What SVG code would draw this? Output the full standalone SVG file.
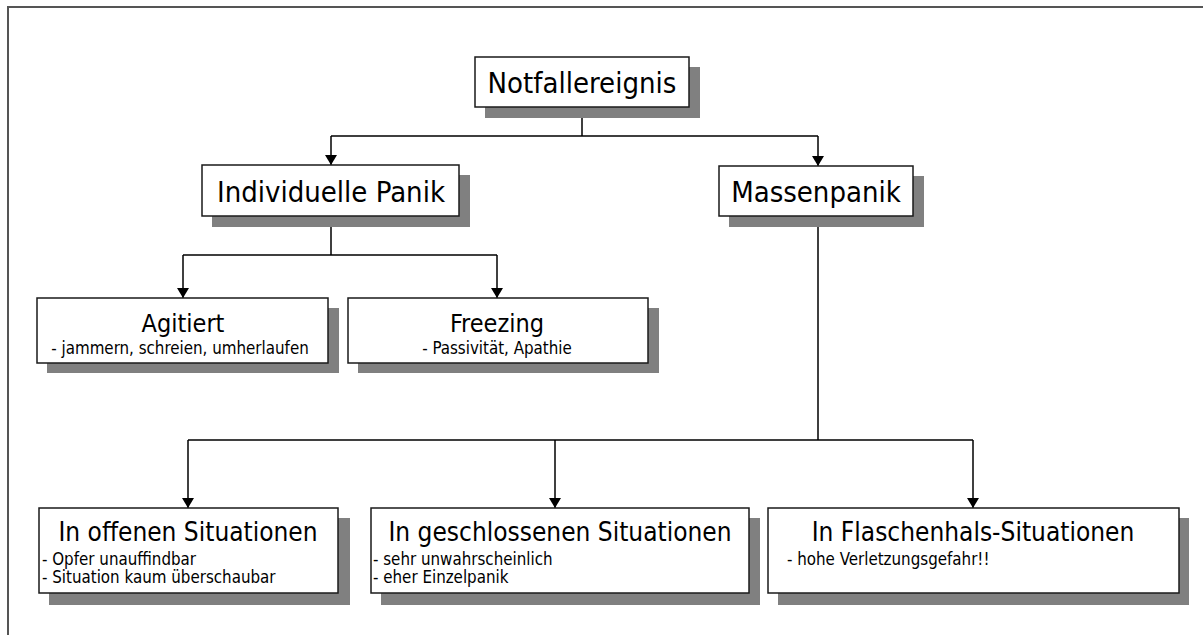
<svg xmlns="http://www.w3.org/2000/svg" width="1203" height="635" viewBox="0 0 1203 635">
  <defs>
    <style>
      .frame { fill: none; stroke: #555555; stroke-width: 2; }
      .shadow { fill: #808080; stroke: none; }
      .box { fill: #ffffff; stroke: #1a1a1a; stroke-width: 1.5; }
      .link { fill: none; stroke: #000000; stroke-width: 1.5; }
      .arrow { fill: none; stroke: #000000; stroke-width: 1.5; marker-end: url(#head); }
      text { font-family: "DejaVu Sans Condensed", "DejaVu Sans", sans-serif; font-stretch: condensed; fill: #000000; }
      .head { font-size: 29px; text-anchor: middle; }
      .title { font-size: 26px; text-anchor: middle; }
      .mid { font-size: 25px; text-anchor: middle; }
      .sub { font-size: 16.8px; }
      .subc { font-size: 16.8px; text-anchor: middle; }
    </style>
    <marker id="head" viewBox="0 0 10 12" refX="10" refY="6" markerWidth="10" markerHeight="12" markerUnits="userSpaceOnUse" orient="auto">
      <path d="M0,0 L10,6 L0,12 Z" fill="#000000"/>
    </marker>
  </defs>

  <rect width="1203" height="635" fill="#ffffff"/>
  <!-- page frame (top and left edges) -->
  <path class="frame" d="M8,635 V7 H1203"/>

  <!-- connectors -->
  <g id="connectors">
    <path class="link" d="M582,107 V136 M331,136 H818"/>
    <path class="arrow" d="M331,136 V165"/>
    <path class="arrow" d="M818,136 V166"/>
    <path class="link" d="M331,216 V255 M183,255 H497"/>
    <path class="arrow" d="M183,255 V298"/>
    <path class="arrow" d="M497,255 V298"/>
    <path class="link" d="M818,216 V440 M188,440 H973"/>
    <path class="arrow" d="M188,440 V508"/>
    <path class="arrow" d="M555,440 V508"/>
    <path class="arrow" d="M973,440 V508"/>
  </g>

  <g id="notfallereignis">
    <rect class="shadow" x="485" y="67" width="215" height="51"/>
    <rect class="box" x="475" y="57" width="214" height="50"/>
    <text class="head" x="582" y="93">Notfallereignis</text>
  </g>

  <g id="individuelle-panik">
    <rect class="shadow" x="212" y="175" width="258" height="52"/>
    <rect class="box" x="202" y="165" width="257" height="51"/>
    <text class="head" x="331" y="202">Individuelle Panik</text>
  </g>

  <g id="massenpanik">
    <rect class="shadow" x="729" y="176" width="195" height="51"/>
    <rect class="box" x="719" y="166" width="194" height="50"/>
    <text class="head" x="816" y="202">Massenpanik</text>
  </g>

  <g id="agitiert">
    <rect class="shadow" x="47" y="308" width="292" height="65"/>
    <rect class="box" x="37" y="298" width="291" height="65"/>
    <text class="mid" x="183" y="332">Agitiert</text>
    <text class="subc" x="180" y="354">- jammern, schreien, umherlaufen</text>
  </g>

  <g id="freezing">
    <rect class="shadow" x="358" y="308" width="301" height="65"/>
    <rect class="box" x="348" y="298" width="300" height="65"/>
    <text class="mid" x="497" y="332">Freezing</text>
    <text class="subc" x="497" y="354">- Passivität, Apathie</text>
  </g>

  <g id="offene-situationen">
    <rect class="shadow" x="49" y="518" width="301" height="87"/>
    <rect class="box" x="39" y="508" width="299" height="85"/>
    <text class="title" x="188" y="541">In offenen Situationen</text>
    <text class="sub" x="42" y="565">- Opfer unauffindbar</text>
    <text class="sub" x="42" y="583">- Situation kaum überschaubar</text>
  </g>

  <g id="geschlossene-situationen">
    <rect class="shadow" x="381" y="518" width="379" height="87"/>
    <rect class="box" x="371" y="508" width="378" height="85"/>
    <text class="title" x="560" y="541">In geschlossenen Situationen</text>
    <text class="sub" x="373" y="565">- sehr unwahrscheinlich</text>
    <text class="sub" x="373" y="583">- eher Einzelpanik</text>
  </g>

  <g id="flaschenhals-situationen">
    <rect class="shadow" x="778" y="518" width="411" height="87"/>
    <rect class="box" x="768" y="508" width="411" height="85"/>
    <text class="title" x="973" y="541">In Flaschenhals-Situationen</text>
    <text class="sub" x="787" y="565">- hohe Verletzungsgefahr!!</text>
  </g>
</svg>
